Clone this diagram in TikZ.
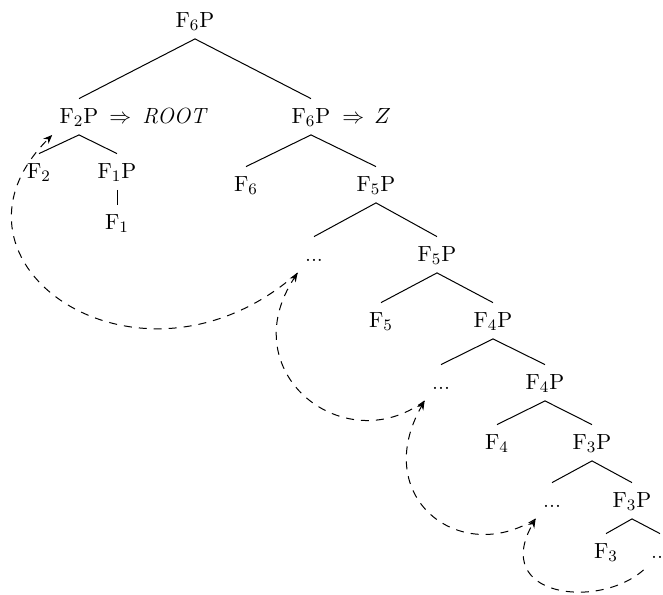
\documentclass[tikz,border=0pt]{standalone}
\usetikzlibrary{arrows.meta}
\tikzset{
  tn/.style={font=\fontsize{11}{13}\selectfont, inner sep=3.5pt, text height=8.5pt, text depth=2.25pt, anchor=base},
  lab/.style={font=\fontsize{11}{13}\selectfont, inner sep=0pt, anchor=base west},
  br/.style={line width=0.5pt},
  lnk/.style={line width=0.5pt, dash pattern=on 4pt off 3.5pt, -{Stealth[length=4.5pt,width=3.6pt]}}
}
\newcommand{\fp}[1]{$\mathrm{F}_{#1}\mathrm{P}$}
\newcommand{\ff}[1]{$\mathrm{F}_{#1}$}
\begin{document}
\begin{tikzpicture}[x=0.5pt,y=-0.5pt]
\useasboundingbox (0,0) rectangle (663,594);
\clip (0,0) rectangle (663,594);
% nodes
\node[tn] (r)  at (195,27)  {\fp{6}};
\node[tn] (a)  at (79,123)  {\fp{2}};
\node[lab] (aR) at (109,123) {$\Rightarrow$\hspace{5.5pt}\textit{ROOT}};
\node[tn] (b)  at (311,123) {\fp{6}};
\node[lab] (bZ) at (342,123) {$\Rightarrow$\hspace{5pt}$Z$};
\node[tn] (a1) at (39,178)  {\ff{2}};
\node[tn] (a2) at (117,178) {\fp{1}};
\node[tn] (a3) at (117,229) {\ff{1}};
\node[tn] (b1) at (246,191) {\ff{6}};
\node[tn] (b2) at (376,191) {\fp{5}};
\node[tn] (d1) at (314,261) {...};
\node[tn] (c1) at (437,261) {\fp{5}};
\node[tn] (c2) at (381,327) {\ff{5}};
\node[tn] (c3) at (493,327) {\fp{4}};
\node[tn] (d2) at (441,389) {...};
\node[tn] (c4) at (545,389) {\fp{4}};
\node[tn] (c5) at (497,449) {\ff{4}};
\node[tn] (c6) at (592,449) {\fp{3}};
\node[tn] (d3) at (552,507) {...};
\node[tn] (c7) at (632,507) {\fp{3}};
\node[tn] (c8) at (606,558) {\ff{3}};
\node[tn] (d4) at (660,558) {...};
% branches
\draw[br] (r.south) -- (a.north);
\draw[br] (r.south) -- (b.north);
\draw[br] (a.south) -- (a1.north);
\draw[br] (a.south) -- (a2.north);
\draw[br] (a2.south) -- (a3.north);
\draw[br] (b.south) -- (b1.north);
\draw[br] (b.south) -- (b2.north);
\draw[br] (b2.south) -- (d1.north);
\draw[br] (b2.south) -- (c1.north);
\draw[br] (c1.south) -- (c2.north);
\draw[br] (c1.south) -- (c3.north);
\draw[br] (c3.south) -- (d2.north);
\draw[br] (c3.south) -- (c4.north);
\draw[br] (c4.south) -- (c5.north);
\draw[br] (c4.south) -- (c6.north);
\draw[br] (c6.south) -- (d3.north);
\draw[br] (c6.south) -- (c7.north);
\draw[br] (c7.south) -- (c8.north);
\draw[br] (c7.south) -- (d4.north);
% dashed links
\draw[lnk] (d1.south west) .. controls +(-158,139) and +(-128,128) .. (a.south west);
\draw[lnk] (d2.south west) .. controls +(-80,60) and +(-66,100) .. (d1.south west);
\draw[lnk] (d3.south west) .. controls +(-76,48) and +(-55,96) .. (d2.south west);
\draw[lnk] (d4.south west) .. controls +(-45,40) and +(-45,78) .. (d3.south west);
\end{tikzpicture}
\end{document}
